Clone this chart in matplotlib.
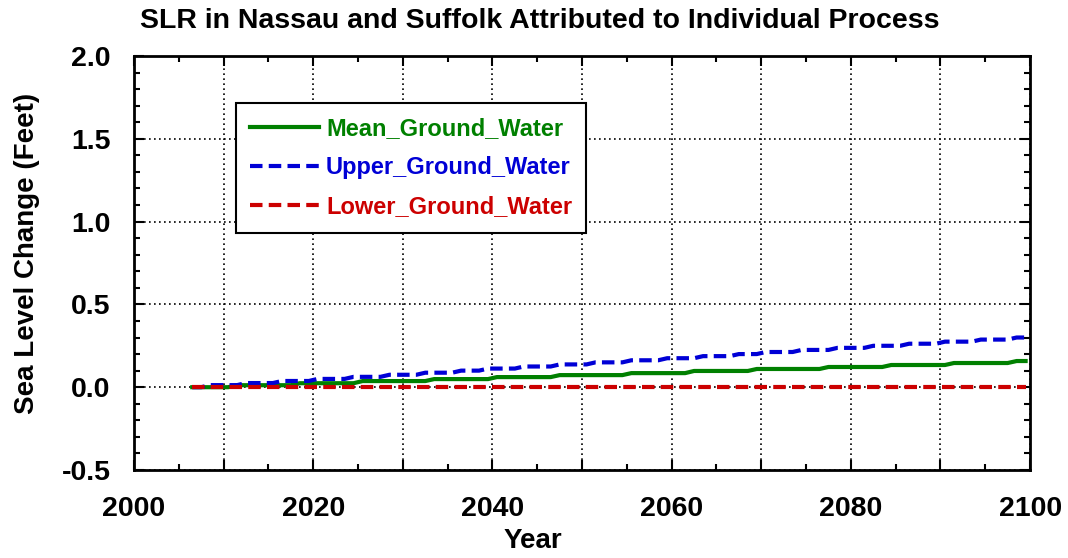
import numpy as np
import matplotlib.pyplot as plt
from matplotlib.ticker import MultipleLocator, FuncFormatter

plt.rcParams['font.family'] = ['Liberation Sans', 'DejaVu Sans']
plt.rcParams['font.weight'] = 'bold'

# annual values, mid-year points 2006.5 ... 2099.5
years = np.arange(2006.5, 2100)

mean_gw = [0, 0, 0, 0,
           0, .012, .012, .012, .012, .012, .012, .012, .024, .024,
           .024, .024, .024, .024, .024, .037, .037, .037, .037, .037,
           .037, .037, .037, .049, .049, .049, .049, .049, .049, .049,
           .061, .061, .061, .061, .061, .061, .061, .073, .073, .073,
           .073, .073, .073, .073, .073, .085, .085, .085, .085, .085,
           .085, .085, .098, .098, .098, .098, .098, .098, .098, .110,
           .110, .110, .110, .110, .110, .110, .110, .122, .122, .122,
           .122, .122, .122, .122, .134, .134, .134, .134, .134, .134,
           .134, .146, .146, .146, .146, .146, .146, .146, .158, .158]

upper_gw = [0, 0, .0125, .0125,
            .0125, .0125, .025, .025, .025, .025, .0375, .0375, .0375, .0375,
            .05, .05, .05, .05, .0625, .0625, .0625, .0625, .075, .075,
            .075, .075, .0875, .0875, .0875, .0875, .10, .10, .10, .1125,
            .1125, .1125, .1125, .125, .125, .125, .125, .1375, .1375, .1375,
            .1375, .15, .15, .15, .15, .1625, .1625, .1625, .1625, .175,
            .175, .175, .175, .1875, .1875, .1875, .1875, .20, .20, .20,
            .2125, .2125, .2125, .2125, .225, .225, .225, .225, .2375, .2375,
            .2375, .2375, .25, .25, .25, .25, .2625, .2625, .2625, .2625,
            .275, .275, .275, .275, .2875, .2875, .2875, .2875, .30, .30]

lower_gw = [0.0] * 94

green = '#008000'
blue = '#0000d6'
red = '#cc0000'

fig = plt.figure(figsize=(10.68, 5.58), dpi=100)
ax = fig.add_axes([0.1255, 0.1577, 0.839, 0.742])

ax.plot(years, mean_gw, color=green, lw=3, label='Mean_Ground_Water')
ax.plot(years, upper_gw, color=blue, lw=3, dashes=(3, 1.5), label='Upper_Ground_Water')
ax.plot(years, lower_gw, color=red, lw=3, dashes=(3, 1.5), label='Lower_Ground_Water')

ax.set_xlim(2000, 2100)
ax.set_ylim(-0.5, 2.0)
ax.xaxis.set_major_locator(MultipleLocator(10))
ax.xaxis.set_minor_locator(MultipleLocator(5))
ax.xaxis.set_major_formatter(FuncFormatter(lambda v, p: f'{v:.0f}' if round(v) % 20 == 0 else ''))
ax.yaxis.set_major_locator(MultipleLocator(0.5))
ax.yaxis.set_minor_locator(MultipleLocator(0.1))
ax.yaxis.set_major_formatter(FuncFormatter(lambda v, p: f'{v:.1f}'))

ax.tick_params(which='both', direction='in', top=True, right=True, width=1.5)
ax.tick_params(which='major', length=7, labelsize=20.5)
ax.tick_params(axis='x', which='major', pad=19)
ax.tick_params(axis='y', which='major', pad=17)
ax.tick_params(which='minor', length=4)
for lab in ax.get_xticklabels() + ax.get_yticklabels():
    lab.set_fontweight('bold')
for s in ax.spines.values():
    s.set_linewidth(2)

ax.grid(True, which='major', color='black', linestyle=(0, (1, 2)), linewidth=1.2)
ax.set_axisbelow(True)

ax.set_title('SLR in Nassau and Suffolk Attributed to Individual Process',
             fontsize=20.5, fontweight='bold', x=0.453, pad=20)
ax.set_xlabel('Year', fontsize=20, fontweight='bold')
ax.xaxis.set_label_coords(0.445, -0.14)
ax.set_ylabel('Sea Level Change (Feet)', fontsize=20, fontweight='bold')
ax.yaxis.set_label_coords(-0.105, 0.524)

leg = ax.legend(loc='upper left', bbox_to_anchor=(0.114, 0.886), borderaxespad=0,
                fontsize=17, handlelength=2.9, handletextpad=0.3, labelspacing=0.68,
                fancybox=False, framealpha=1, edgecolor='black', borderpad=0.6)
leg.get_frame().set_linewidth(1.5)
for txt, c in zip(leg.get_texts(), [green, blue, red]):
    txt.set_color(c)
    txt.set_fontweight('bold')

fig.savefig('out.png', dpi=100)
